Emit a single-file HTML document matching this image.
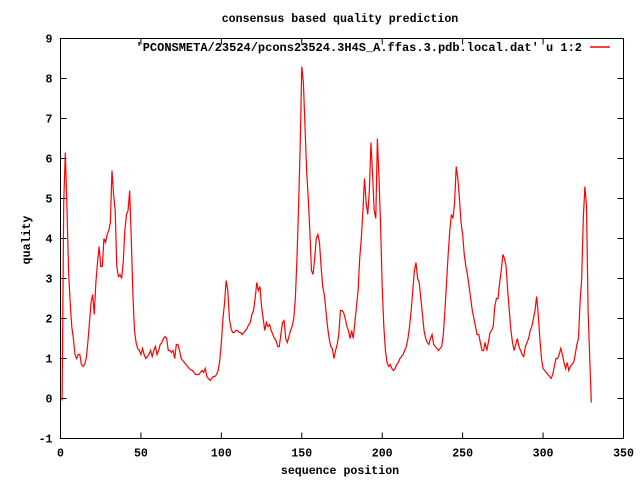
<!DOCTYPE html>
<html><head><meta charset="utf-8"><style>
html,body{margin:0;padding:0;background:#fff;}
svg text{font-family:"Liberation Mono",monospace;font-size:11.6px;font-weight:bold;fill:#000;}
</style></head><body>
<svg id="chart" width="640" height="480" xmlns="http://www.w3.org/2000/svg">
<text x="340" y="22" text-anchor="middle">consensus based quality prediction</text>
<text transform="translate(30,240) rotate(-90)" text-anchor="middle">quality</text>
<text x="340" y="474" text-anchor="middle">sequence position</text>
<g id="axes"></g>
<rect x="60.5" y="38.5" width="563" height="400" fill="none" stroke="#000" stroke-width="1"/>
<text x="582" y="51" text-anchor="end" style="font-size:12px">'PCONSMETA/23524/pcons23524.3H4S_A.ffas.3.pdb.local.dat' u 1:2</text>
<line x1="590" y1="47" x2="610" y2="47" stroke="#ff0000" stroke-width="1.5"/>
<path id="series" fill="none" stroke="#f00" stroke-width="1.2"/>
</svg>
<script>
const xTicks=[0,50,100,150,200,250,300,350];
const yTicks=[-1,0,1,2,3,4,5,6,7,8,9];
const values=[-0.05,4.9,6.15,4.8,3.2,2.4,1.8,1.5,1.1,1.0,1.1,1.1,0.85,0.8,0.85,1.0,1.4,1.9,2.4,2.6,2.1,2.9,3.4,3.8,3.3,3.3,4.0,3.9,4.1,4.2,4.4,5.7,5.1,4.7,3.3,3.05,3.1,3.0,3.4,4.2,4.6,4.7,5.2,4.0,2.6,1.7,1.4,1.25,1.2,1.1,1.25,1.1,1.0,1.05,1.1,1.2,1.05,1.2,1.3,1.1,1.2,1.35,1.4,1.5,1.55,1.5,1.2,1.2,1.15,1.2,1.0,1.35,1.35,1.2,1.0,0.95,0.9,0.85,0.8,0.75,0.72,0.7,0.65,0.6,0.6,0.6,0.65,0.7,0.65,0.75,0.55,0.5,0.45,0.5,0.55,0.55,0.6,0.7,0.95,1.4,2.0,2.4,2.95,2.7,2.0,1.75,1.65,1.65,1.7,1.7,1.65,1.65,1.6,1.65,1.7,1.75,1.85,1.9,2.1,2.2,2.5,2.9,2.7,2.8,2.3,2.0,1.7,1.9,1.8,1.85,1.7,1.6,1.5,1.45,1.3,1.3,1.6,1.9,1.95,1.5,1.4,1.55,1.7,1.8,2.0,2.5,3.5,4.8,6.3,8.3,7.9,6.8,5.7,5.0,4.2,3.2,3.1,3.5,4.0,4.1,3.9,3.3,2.8,2.6,2.2,1.8,1.5,1.3,1.25,1.0,1.2,1.35,1.6,2.2,2.2,2.15,2.0,1.8,1.7,1.5,1.7,1.5,1.9,2.3,2.7,3.5,4.0,4.7,5.5,4.9,4.6,5.2,6.4,5.6,4.7,4.5,6.5,5.5,4.3,2.8,1.8,1.2,0.9,0.8,0.85,0.75,0.7,0.75,0.85,0.9,1.0,1.05,1.1,1.2,1.3,1.5,1.8,2.2,2.7,3.2,3.4,3.0,2.9,2.5,2.1,1.7,1.5,1.4,1.35,1.5,1.6,1.35,1.3,1.25,1.2,1.25,1.3,1.6,2.2,2.9,3.6,4.2,4.6,4.5,4.9,5.8,5.5,5.0,4.4,4.1,3.6,3.3,3.1,2.8,2.5,2.2,2.0,1.8,1.6,1.6,1.4,1.2,1.2,1.4,1.2,1.4,1.65,1.7,1.8,2.3,2.5,2.5,2.9,3.2,3.6,3.5,3.3,2.7,2.2,1.7,1.4,1.2,1.35,1.5,1.3,1.2,1.1,1.05,1.3,1.4,1.5,1.7,1.8,2.0,2.2,2.55,2.1,1.5,1.0,0.75,0.7,0.65,0.6,0.55,0.5,0.6,0.8,1.0,1.0,1.1,1.25,1.1,0.9,0.75,0.9,0.7,0.8,0.85,0.9,1.1,1.35,1.5,2.4,3.0,4.5,5.3,4.8,2.2,1.0,-0.1];
const X0=60.5,X1=623.5,Y0=438.5,Y1=38.5;
const xScale=v=>X0+(v-0)/(350-0)*(X1-X0);
const yScale=v=>Y0-(v-(-1))/(9-(-1))*(Y0-Y1);
const ax=document.getElementById('axes');
const NS='http://www.w3.org/2000/svg';
xTicks.forEach(t=>{
  const x=xScale(t);
  const l=document.createElementNS(NS,'path');
  l.setAttribute('d',`M${x},${Y0}v-6M${x},${Y1}v6`);
  l.setAttribute('stroke','#000');
  
  
  ax.appendChild(l);
  const tx=document.createElementNS(NS,'text');
  tx.setAttribute('x',x);tx.setAttribute('y',Y0+18);tx.setAttribute('text-anchor','middle');
  tx.textContent=t;
  
  
  ax.appendChild(tx);
});
yTicks.forEach(t=>{
  const y=yScale(t);
  const l=document.createElementNS(NS,'path');
  l.setAttribute('d',`M${X0},${y}h6M${X1},${y}h-6`);
  l.setAttribute('stroke','#000');
  
  
  ax.appendChild(l);
  const tx=document.createElementNS(NS,'text');
  tx.setAttribute('x',X0-8);tx.setAttribute('y',y+4);tx.setAttribute('text-anchor','end');
  tx.textContent=t;
  
  
  ax.appendChild(tx);
});
let d='';
values.forEach((v,i)=>{d+=(i?'L':'M')+xScale(i+1).toFixed(2)+','+yScale(v).toFixed(2);});
document.getElementById('series').setAttribute('d',d);
</script>
</body></html>
